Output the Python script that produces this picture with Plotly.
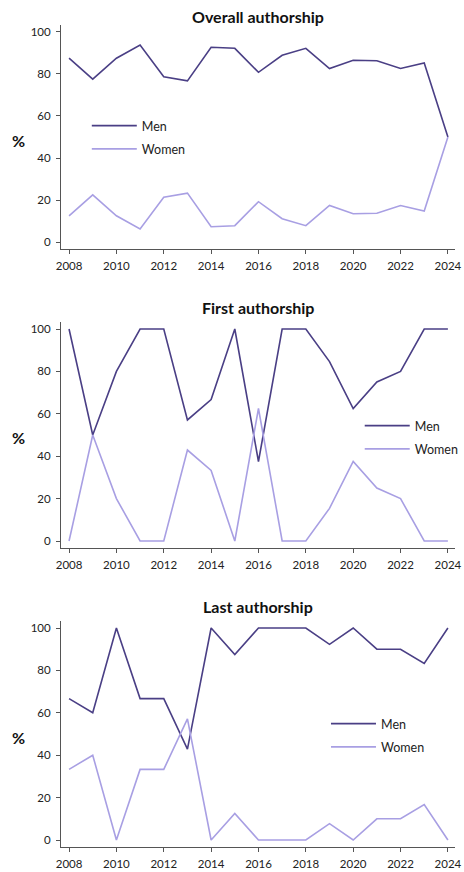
import plotly.graph_objects as go

years = list(range(2008, 2025))

overall_men = [87.5, 77.5, 87.5, 93.75, 78.7, 76.7, 92.7, 92.2, 80.8, 88.9, 92.2, 82.6, 86.5, 86.3, 82.6, 85.2, 50]
overall_women = [12.5, 22.5, 12.5, 6.25, 21.3, 23.3, 7.3, 7.8, 19.2, 11.1, 7.8, 17.4, 13.5, 13.7, 17.4, 14.8, 50]

first_men = [100, 50, 80, 100, 100, 57.1, 66.7, 100, 37.5, 100, 100, 84.6, 62.5, 75, 80, 100, 100]
first_women = [0, 50, 20, 0, 0, 42.9, 33.3, 0, 62.5, 0, 0, 15.4, 37.5, 25, 20, 0, 0]

last_men = [66.7, 60, 100, 66.7, 66.7, 42.9, 100, 87.5, 100, 100, 100, 92.3, 100, 90, 90, 83.3, 100]
last_women = [33.3, 40, 0, 33.3, 33.3, 57.1, 0, 12.5, 0, 0, 0, 7.7, 0, 10, 10, 16.7, 0]

titles = ["Overall authorship", "First authorship", "Last authorship"]
y_ticks = [0, 20, 40, 60, 80, 100]
x_ticks = list(range(2008, 2025, 2))

MEN_COLOR = "#4a3f85"
WOMEN_COLOR = "#a89fe3"
FONT = "Lato"
W, H = 464, 872
ML, MR = 61, 6
PW = W - ML - MR

panels = [
    (overall_men, overall_women),
    (first_men, first_women),
    (last_men, last_women),
]
# pixel layout (top, bottom) for each plot area
areas = [(25, 249), (322, 548), (621, 847)]
title_y = [17, 307, 606]
legend_pos = [(87, 111), (362, 411), (328, 709)]

fig = go.Figure()
for i, (men, women) in enumerate(panels):
    n = "" if i == 0 else str(i + 1)
    leg = "legend" if i == 0 else f"legend{i + 1}"
    fig.add_trace(go.Scatter(x=years, y=men, mode="lines", name="Men",
                             line=dict(color=MEN_COLOR, width=1.6),
                             legendgroup=f"men{i}",
                             xaxis="x" + n, yaxis="y" + n, legend=leg))
    fig.add_trace(go.Scatter(x=years, y=women, mode="lines", name="Women",
                             line=dict(color=WOMEN_COLOR, width=1.6),
                             legendgroup=f"women{i}",
                             xaxis="x" + n, yaxis="y" + n, legend=leg))
    top, bot = areas[i]
    dom = [(H - bot) / H, (H - top) / H]
    axcommon = dict(showgrid=False, zeroline=False, showline=True, linecolor="#555555",
                    linewidth=1, ticks="outside", ticklen=4, tickcolor="#555555",
                    tickfont=dict(family=FONT, size=11.5, color="#222222"))
    fig.update_layout(**{
        "xaxis" + n: dict(domain=[0, 1], anchor="y" + n, range=[2007.66, 2024.3],
                          tickvals=x_ticks, ticklabeloverflow="allow",
                          ticklabelstandoff=2, **axcommon),
        "yaxis" + n: dict(domain=dom, anchor="x" + n, range=[-3.3, 103.3],
                          tickvals=y_ticks, ticklabelstandoff=3, **axcommon),
    })
    lx, ly = legend_pos[i]
    fig.update_layout(**{
        leg: dict(x=(lx - ML) / PW, y=(H - ly) / H, xanchor="left", yanchor="top",
                  xref="paper", yref="paper", traceorder="grouped", tracegroupgap=4,
                  bgcolor="rgba(0,0,0,0)", itemwidth=45,
                  font=dict(family=FONT, size=12.5, color="#222222"))
    })
    fig.add_annotation(text="<b>" + titles[i] + "</b>", x=0.5, y=(H - title_y[i]) / H,
                       xref="paper", yref="paper", showarrow=False,
                       font=dict(family=FONT, size=16, color="#111111"),
                       xanchor="center", yanchor="middle")
    fig.add_annotation(text="<b>%</b>", x=(18 - ML) / PW, y=(H - (top + bot) / 2 - 3) / H,
                       xref="paper", yref="paper", showarrow=False,
                       font=dict(family=FONT, size=16, color="#111111"),
                       xanchor="center", yanchor="middle")

fig.update_layout(width=W, height=H, margin=dict(l=ML, r=MR, t=0, b=0),
                  plot_bgcolor="white", paper_bgcolor="white", showlegend=True)
fig.write_html("out.html", config={"displayModeBar": False},
               post_script="document.body.style.margin='0';document.documentElement.style.overflow='hidden';document.body.style.overflow='hidden';")
